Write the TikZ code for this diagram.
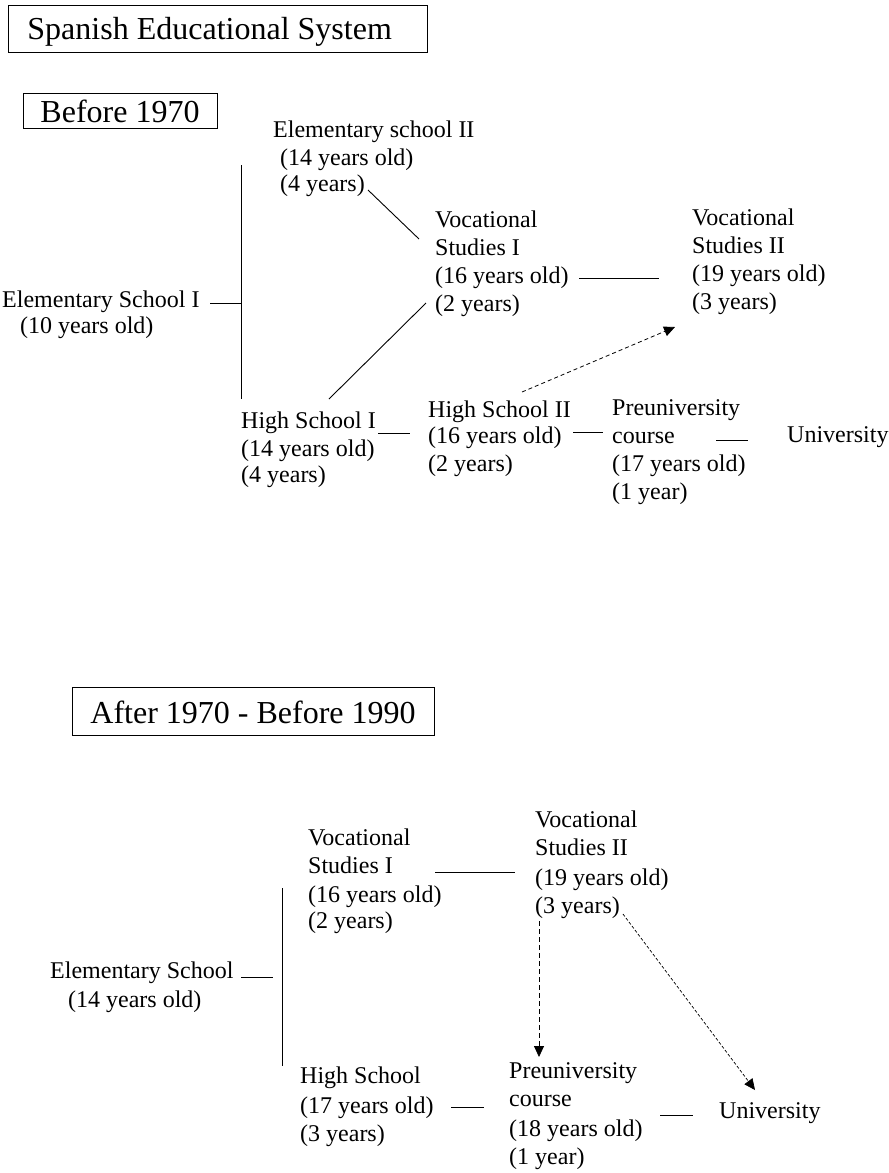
\documentclass[tikz,border=0pt]{standalone}
\usepackage{fontspec}
\setmainfont{Liberation Serif}
\usetikzlibrary{arrows.meta}
\newcommand{\blk}[1]{\begin{tabular}[t]{@{}l@{}}#1\end{tabular}}
\tikzset{
  lbl/.style={inner sep=0pt, anchor=base west, font=\fontsize{24}{28}\selectfont},
  hdr/.style={draw, line width=0.9pt, inner sep=0pt, anchor=north west, font=\fontsize{32}{36}\selectfont},
  link/.style={line width=0.9pt, black},
  dlink/.style={line width=0.8pt, black, dash pattern=on 4pt off 3pt, -{Triangle[length=11pt,width=10pt]}},
  flink/.style={line width=0.7pt, black, dash pattern=on 3pt off 2pt, -{Triangle[length=11pt,width=10pt]}}
}
\begin{document}
\begin{tikzpicture}[x=1pt,y=-1pt]
\useasboundingbox[fill=white] (0,0) rectangle (889,1173);

% headers
\node[hdr] (title) at (8,5) {\makebox[419pt][l]{\hspace{19pt}\rule[-13pt]{0pt}{47pt}Spanish Educational System}};
\node[hdr] (before) at (23,93) {\makebox[194pt][l]{\hspace{17pt}\rule[-6pt]{0pt}{35pt}Before 1970}};
\node[hdr] (after) at (72,687) {\makebox[362pt][l]{\hspace{18pt}\rule[-12pt]{0pt}{48pt}After 1970 - Before 1990}};

% ---- Before 1970 ----
\node[lbl] (es1) at (2,307) {\blk{Elementary School I\\[-2pt]\hspace{18pt}(10 years old)}};
\node[lbl] (es2) at (273,137) {\blk{Elementary school II\\\hspace{7pt}(14 years old)\\[-2pt]\hspace{7pt}(4 years)}};
\node[lbl] (vs1) at (435,227) {\blk{Vocational\\Studies I\\(16 years old)\\(2 years)}};
\node[lbl] (vs2) at (692,225) {\blk{Vocational\\Studies II\\(19 years old)\\(3 years)}};
\node[lbl] (hs1) at (241,428) {\blk{High School I\\(14 years old)\\[-2pt](4 years)}};
\node[lbl] (hs2) at (428,417) {\blk{High School II\\[-2pt](16 years old)\\(2 years)}};
\node[lbl] (pre1) at (612,415) {\blk{Preuniversity\\course\\(17 years old)\\(1 year)}};
\node[lbl] (uni1) at (787,442) {University};

\coordinate (v1top) at (241,165);
\coordinate (v1bot) at (241,399);
\coordinate (v1mid) at (241,303);
\coordinate (es1r) at (210,303);
\coordinate (es2r) at (368,190);
\coordinate (vs1ul) at (419,239);
\coordinate (hs1t) at (329,399);
\coordinate (vs1ll) at (426,303);
\coordinate (vs1r) at (579,278);
\coordinate (vs2l) at (659,278);
\coordinate (hs2t) at (522,392);
\coordinate (vs2b) at (675,327);
\coordinate (hs1r) at (378,433);
\coordinate (hs2l) at (410,433);
\coordinate (hs2r) at (573,432);
\coordinate (pre1l) at (603,432);
\coordinate (pre1r) at (716,440);
\coordinate (uni1l) at (748,440);

\draw[link] (v1top) -- (v1bot);
\draw[link] (es1r) -- (v1mid);
\draw[link] (es2r) -- (vs1ul);
\draw[link] (hs1t) -- (vs1ll);
\draw[link] (vs1r) -- (vs2l);
\draw[dlink] (hs2t) -- (vs2b);
\draw[link] (hs1r) -- (hs2l);
\draw[link] (hs2r) -- (pre1l);
\draw[link] (pre1r) -- (uni1l);

% ---- After 1970 - Before 1990 ----
\node[lbl] (esb) at (50,978) {\blk{Elementary School\\[1pt]\hspace{18pt}(14 years old)}};
\node[lbl] (vs1b) at (308,845) {\blk{Vocational\\Studies I\\[1pt](16 years old)\\[-2pt](2 years)}};
\node[lbl] (vs2b) at (535,827) {\blk{Vocational\\Studies II\\[2pt](19 years old)\\(3 years)}};
\node[lbl] (hsb) at (300,1083) {\blk{High School\\[2pt](17 years old)\\(3 years)}};
\node[lbl] (preb) at (509,1078) {\blk{Preuniversity\\course\\[2pt](18 years old)\\(1 year)}};
\node[lbl] (unib) at (719,1118) {University};

\coordinate (v2top) at (282,888);
\coordinate (v2bot) at (282,1066);
\coordinate (esbr) at (241,977);
\coordinate (esbv) at (273,977);
\coordinate (vs1br) at (435,872);
\coordinate (vs2bl) at (515,872);
\coordinate (hsbr) at (451,1107);
\coordinate (prebl) at (484,1107);
\coordinate (prebr) at (660,1115);
\coordinate (unibl) at (693,1115);
\coordinate (vs2bd) at (539,921);
\coordinate (prebt) at (539,1057);
\coordinate (vs2bs) at (623,914);
\coordinate (unibt) at (755,1090);

\draw[link] (v2top) -- (v2bot);
\draw[link] (esbr) -- (esbv);
\draw[link] (vs1br) -- (vs2bl);
\draw[link] (hsbr) -- (prebl);
\draw[link] (prebr) -- (unibl);
\draw[dlink, dash pattern=on 5pt off 3pt] (vs2bd) -- (prebt);
\draw[flink] (vs2bs) -- (unibt);
\end{tikzpicture}
\end{document}
